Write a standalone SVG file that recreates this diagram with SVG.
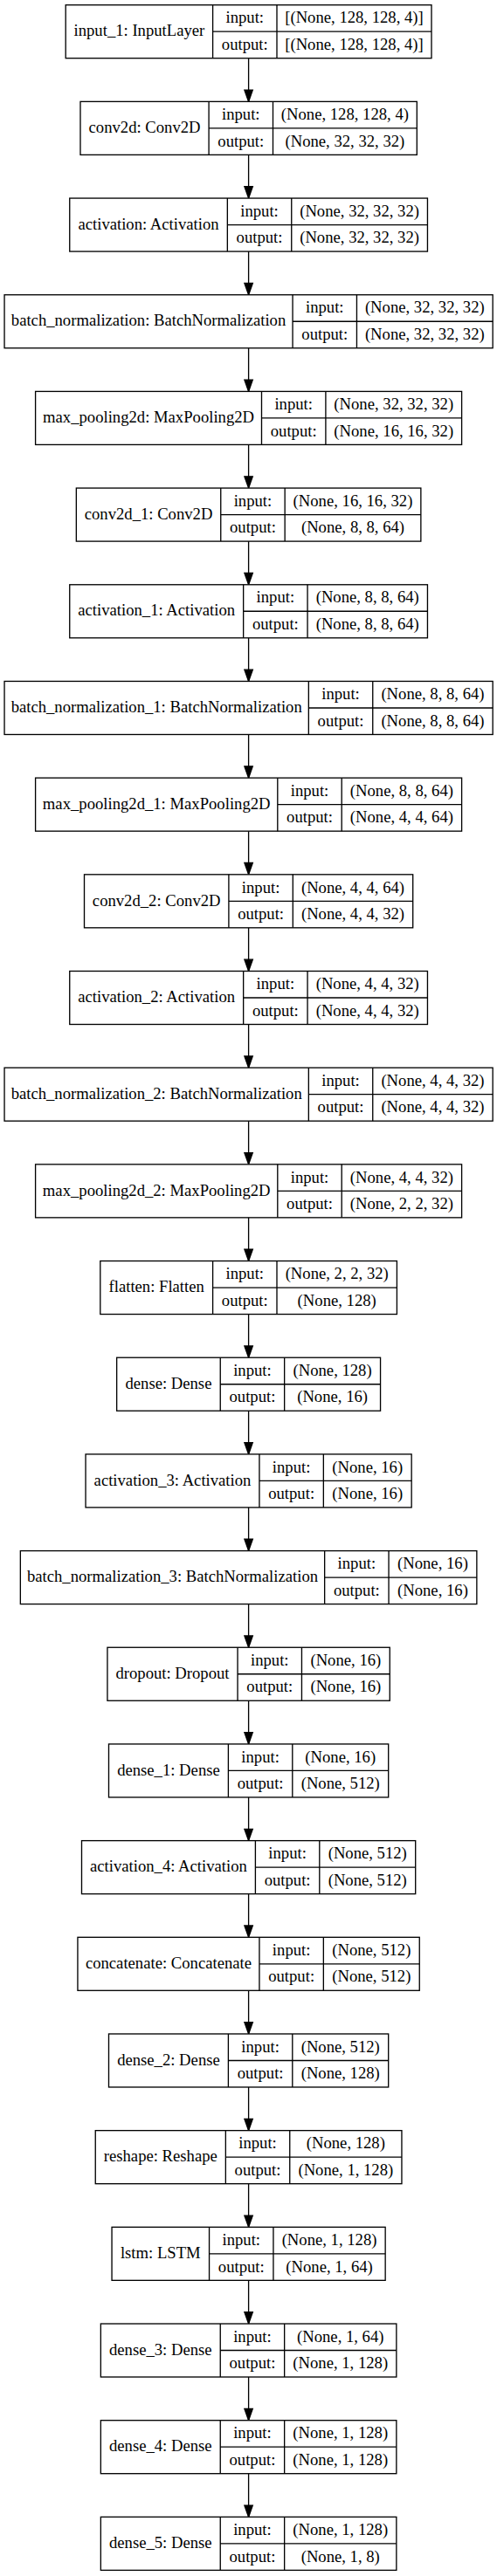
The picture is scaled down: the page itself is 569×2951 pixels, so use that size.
<svg xmlns="http://www.w3.org/2000/svg" width="569" height="2951" viewBox="0 0 569 2951">
<style>
.node rect{fill:#fff;stroke:#000;stroke-width:1.33}
.node path{fill:none;stroke:#000;stroke-width:1.33}
.node text{font-family:"Liberation Serif","Times New Roman",serif;font-size:18.67px;fill:#000;text-anchor:middle}
.edge{fill:none;stroke:#000;stroke-width:1.33;marker-end:url(#arrow)}
</style>
<defs>
<marker id="arrow" markerUnits="userSpaceOnUse" markerWidth="16" markerHeight="14" refX="13.3" refY="5" orient="auto" overflow="visible"><path d="M0 0.3L13.3 5L0 9.7Z" fill="#000" stroke="#000" stroke-width="1.33"/></marker>
</defs>
<rect width="569" height="2951" fill="#fff"/>
<g id="edges">
<path class="edge" d="M284.6 66.7V116.38"/>
<path class="edge" d="M284.6 177.38V227.06"/>
<path class="edge" d="M284.6 288.06V337.74"/>
<path class="edge" d="M284.6 398.74V448.42"/>
<path class="edge" d="M284.6 509.42V559.1"/>
<path class="edge" d="M284.6 620.1V669.78"/>
<path class="edge" d="M284.6 730.78V780.46"/>
<path class="edge" d="M284.6 841.46V891.14"/>
<path class="edge" d="M284.6 952.14V1001.82"/>
<path class="edge" d="M284.6 1062.82V1112.5"/>
<path class="edge" d="M284.6 1173.5V1223.18"/>
<path class="edge" d="M284.6 1284.18V1333.86"/>
<path class="edge" d="M284.6 1394.86V1444.54"/>
<path class="edge" d="M284.6 1505.54V1555.22"/>
<path class="edge" d="M284.6 1616.22V1665.9"/>
<path class="edge" d="M284.6 1726.9V1776.58"/>
<path class="edge" d="M284.6 1837.58V1887.26"/>
<path class="edge" d="M284.6 1948.26V1997.94"/>
<path class="edge" d="M284.6 2058.94V2108.62"/>
<path class="edge" d="M284.6 2169.62V2219.3"/>
<path class="edge" d="M284.6 2280.3V2329.98"/>
<path class="edge" d="M284.6 2390.98V2440.66"/>
<path class="edge" d="M284.6 2501.66V2551.34"/>
<path class="edge" d="M284.6 2612.34V2662.02"/>
<path class="edge" d="M284.6 2723.02V2772.7"/>
<path class="edge" d="M284.6 2833.7V2883.38"/>
</g>
<g id="input_1" class="node" transform="translate(75.2,5.7)">
<rect width="418.8" height="61"/><path d="M168.4 0V61M241.8 0V61M168.4 30.5H418.8"/>
<text x="84.2" y="35.7">input_1: InputLayer</text><text x="205.1" y="20.7">input:</text><text x="205.1" y="51.2">output:</text>
<text x="330.3" y="20.7">[(None, 128, 128, 4)]</text><text x="330.3" y="51.2">[(None, 128, 128, 4)]</text>
</g>
<g id="conv2d" class="node" transform="translate(92,116.38)">
<rect width="385.3" height="61"/><path d="M147.1 0V61M220.5 0V61M147.1 30.5H385.3"/>
<text x="73.55" y="35.7">conv2d: Conv2D</text><text x="183.8" y="20.7">input:</text><text x="183.8" y="51.2">output:</text>
<text x="302.9" y="20.7">(None, 128, 128, 4)</text><text x="302.9" y="51.2">(None, 32, 32, 32)</text>
</g>
<g id="activation" class="node" transform="translate(79.75,227.06)">
<rect width="409.7" height="61"/><path d="M180.6 0V61M254 0V61M180.6 30.5H409.7"/>
<text x="90.3" y="35.7">activation: Activation</text><text x="217.3" y="20.7">input:</text><text x="217.3" y="51.2">output:</text>
<text x="331.85" y="20.7">(None, 32, 32, 32)</text><text x="331.85" y="51.2">(None, 32, 32, 32)</text>
</g>
<g id="batch_normalization" class="node" transform="translate(5.05,337.74)">
<rect width="559.1" height="61"/><path d="M330 0V61M403.4 0V61M330 30.5H559.1"/>
<text x="165" y="35.7">batch_normalization: BatchNormalization</text><text x="366.7" y="20.7">input:</text><text x="366.7" y="51.2">output:</text>
<text x="481.25" y="20.7">(None, 32, 32, 32)</text><text x="481.25" y="51.2">(None, 32, 32, 32)</text>
</g>
<g id="max_pooling2d" class="node" transform="translate(40.6,448.42)">
<rect width="488" height="61"/><path d="M258.9 0V61M332.3 0V61M258.9 30.5H488"/>
<text x="129.45" y="35.7">max_pooling2d: MaxPooling2D</text><text x="295.6" y="20.7">input:</text><text x="295.6" y="51.2">output:</text>
<text x="410.15" y="20.7">(None, 32, 32, 32)</text><text x="410.15" y="51.2">(None, 16, 16, 32)</text>
</g>
<g id="conv2d_1" class="node" transform="translate(87.35,559.1)">
<rect width="394.5" height="61"/><path d="M165.4 0V61M238.8 0V61M165.4 30.5H394.5"/>
<text x="82.7" y="35.7">conv2d_1: Conv2D</text><text x="202.1" y="20.7">input:</text><text x="202.1" y="51.2">output:</text>
<text x="316.65" y="20.7">(None, 16, 16, 32)</text><text x="316.65" y="51.2">(None, 8, 8, 64)</text>
</g>
<g id="activation_1" class="node" transform="translate(79.75,669.78)">
<rect width="409.7" height="61"/><path d="M198.9 0V61M272.3 0V61M198.9 30.5H409.7"/>
<text x="99.45" y="35.7">activation_1: Activation</text><text x="235.6" y="20.7">input:</text><text x="235.6" y="51.2">output:</text>
<text x="341" y="20.7">(None, 8, 8, 64)</text><text x="341" y="51.2">(None, 8, 8, 64)</text>
</g>
<g id="batch_normalization_1" class="node" transform="translate(5.05,780.46)">
<rect width="559.1" height="61"/><path d="M348.3 0V61M421.7 0V61M348.3 30.5H559.1"/>
<text x="174.15" y="35.7">batch_normalization_1: BatchNormalization</text><text x="385" y="20.7">input:</text><text x="385" y="51.2">output:</text>
<text x="490.4" y="20.7">(None, 8, 8, 64)</text><text x="490.4" y="51.2">(None, 8, 8, 64)</text>
</g>
<g id="max_pooling2d_1" class="node" transform="translate(40.6,891.14)">
<rect width="488" height="61"/><path d="M277.2 0V61M350.6 0V61M277.2 30.5H488"/>
<text x="138.6" y="35.7">max_pooling2d_1: MaxPooling2D</text><text x="313.9" y="20.7">input:</text><text x="313.9" y="51.2">output:</text>
<text x="419.3" y="20.7">(None, 8, 8, 64)</text><text x="419.3" y="51.2">(None, 4, 4, 64)</text>
</g>
<g id="conv2d_2" class="node" transform="translate(96.5,1001.82)">
<rect width="376.2" height="61"/><path d="M165.4 0V61M238.8 0V61M165.4 30.5H376.2"/>
<text x="82.7" y="35.7">conv2d_2: Conv2D</text><text x="202.1" y="20.7">input:</text><text x="202.1" y="51.2">output:</text>
<text x="307.5" y="20.7">(None, 4, 4, 64)</text><text x="307.5" y="51.2">(None, 4, 4, 32)</text>
</g>
<g id="activation_2" class="node" transform="translate(79.75,1112.5)">
<rect width="409.7" height="61"/><path d="M198.9 0V61M272.3 0V61M198.9 30.5H409.7"/>
<text x="99.45" y="35.7">activation_2: Activation</text><text x="235.6" y="20.7">input:</text><text x="235.6" y="51.2">output:</text>
<text x="341" y="20.7">(None, 4, 4, 32)</text><text x="341" y="51.2">(None, 4, 4, 32)</text>
</g>
<g id="batch_normalization_2" class="node" transform="translate(5.05,1223.18)">
<rect width="559.1" height="61"/><path d="M348.3 0V61M421.7 0V61M348.3 30.5H559.1"/>
<text x="174.15" y="35.7">batch_normalization_2: BatchNormalization</text><text x="385" y="20.7">input:</text><text x="385" y="51.2">output:</text>
<text x="490.4" y="20.7">(None, 4, 4, 32)</text><text x="490.4" y="51.2">(None, 4, 4, 32)</text>
</g>
<g id="max_pooling2d_2" class="node" transform="translate(40.6,1333.86)">
<rect width="488" height="61"/><path d="M277.2 0V61M350.6 0V61M277.2 30.5H488"/>
<text x="138.6" y="35.7">max_pooling2d_2: MaxPooling2D</text><text x="313.9" y="20.7">input:</text><text x="313.9" y="51.2">output:</text>
<text x="419.3" y="20.7">(None, 4, 4, 32)</text><text x="419.3" y="51.2">(None, 2, 2, 32)</text>
</g>
<g id="flatten" class="node" transform="translate(114.8,1444.54)">
<rect width="339.6" height="61"/><path d="M128.8 0V61M202.2 0V61M128.8 30.5H339.6"/>
<text x="64.4" y="35.7">flatten: Flatten</text><text x="165.5" y="20.7">input:</text><text x="165.5" y="51.2">output:</text>
<text x="270.9" y="20.7">(None, 2, 2, 32)</text><text x="270.9" y="51.2">(None, 128)</text>
</g>
<g id="dense" class="node" transform="translate(133.65,1555.22)">
<rect width="301.9" height="61"/><path d="M118.6 0V61M192 0V61M118.6 30.5H301.9"/>
<text x="59.3" y="35.7">dense: Dense</text><text x="155.3" y="20.7">input:</text><text x="155.3" y="51.2">output:</text>
<text x="246.95" y="20.7">(None, 128)</text><text x="246.95" y="51.2">(None, 16)</text>
</g>
<g id="activation_3" class="node" transform="translate(98.05,1665.9)">
<rect width="373.1" height="61"/><path d="M198.9 0V61M272.3 0V61M198.9 30.5H373.1"/>
<text x="99.45" y="35.7">activation_3: Activation</text><text x="235.6" y="20.7">input:</text><text x="235.6" y="51.2">output:</text>
<text x="322.7" y="20.7">(None, 16)</text><text x="322.7" y="51.2">(None, 16)</text>
</g>
<g id="batch_normalization_3" class="node" transform="translate(23.35,1776.58)">
<rect width="522.5" height="61"/><path d="M348.3 0V61M421.7 0V61M348.3 30.5H522.5"/>
<text x="174.15" y="35.7">batch_normalization_3: BatchNormalization</text><text x="385" y="20.7">input:</text><text x="385" y="51.2">output:</text>
<text x="472.1" y="20.7">(None, 16)</text><text x="472.1" y="51.2">(None, 16)</text>
</g>
<g id="dropout" class="node" transform="translate(122.95,1887.26)">
<rect width="323.3" height="61"/><path d="M149.1 0V61M222.5 0V61M149.1 30.5H323.3"/>
<text x="74.55" y="35.7">dropout: Dropout</text><text x="185.8" y="20.7">input:</text><text x="185.8" y="51.2">output:</text>
<text x="272.9" y="20.7">(None, 16)</text><text x="272.9" y="51.2">(None, 16)</text>
</g>
<g id="dense_1" class="node" transform="translate(124.5,1997.94)">
<rect width="320.2" height="61"/><path d="M136.9 0V61M210.3 0V61M136.9 30.5H320.2"/>
<text x="68.45" y="35.7">dense_1: Dense</text><text x="173.6" y="20.7">input:</text><text x="173.6" y="51.2">output:</text>
<text x="265.25" y="20.7">(None, 16)</text><text x="265.25" y="51.2">(None, 512)</text>
</g>
<g id="activation_4" class="node" transform="translate(93.5,2108.62)">
<rect width="382.2" height="61"/><path d="M198.9 0V61M272.3 0V61M198.9 30.5H382.2"/>
<text x="99.45" y="35.7">activation_4: Activation</text><text x="235.6" y="20.7">input:</text><text x="235.6" y="51.2">output:</text>
<text x="327.25" y="20.7">(None, 512)</text><text x="327.25" y="51.2">(None, 512)</text>
</g>
<g id="concatenate" class="node" transform="translate(88.95,2219.3)">
<rect width="391.3" height="61"/><path d="M208 0V61M281.4 0V61M208 30.5H391.3"/>
<text x="104" y="35.7">concatenate: Concatenate</text><text x="244.7" y="20.7">input:</text><text x="244.7" y="51.2">output:</text>
<text x="336.35" y="20.7">(None, 512)</text><text x="336.35" y="51.2">(None, 512)</text>
</g>
<g id="dense_2" class="node" transform="translate(124.5,2329.98)">
<rect width="320.2" height="61"/><path d="M136.9 0V61M210.3 0V61M136.9 30.5H320.2"/>
<text x="68.45" y="35.7">dense_2: Dense</text><text x="173.6" y="20.7">input:</text><text x="173.6" y="51.2">output:</text>
<text x="265.25" y="20.7">(None, 512)</text><text x="265.25" y="51.2">(None, 128)</text>
</g>
<g id="reshape" class="node" transform="translate(109.25,2440.66)">
<rect width="350.7" height="61"/><path d="M149.1 0V61M222.5 0V61M149.1 30.5H350.7"/>
<text x="74.55" y="35.7">reshape: Reshape</text><text x="185.8" y="20.7">input:</text><text x="185.8" y="51.2">output:</text>
<text x="286.6" y="20.7">(None, 128)</text><text x="286.6" y="51.2">(None, 1, 128)</text>
</g>
<g id="lstm" class="node" transform="translate(128.05,2551.34)">
<rect width="313.1" height="61"/><path d="M111.5 0V61M184.9 0V61M111.5 30.5H313.1"/>
<text x="55.75" y="35.7">lstm: LSTM</text><text x="148.2" y="20.7">input:</text><text x="148.2" y="51.2">output:</text>
<text x="249" y="20.7">(None, 1, 128)</text><text x="249" y="51.2">(None, 1, 64)</text>
</g>
<g id="dense_3" class="node" transform="translate(115.35,2662.02)">
<rect width="338.5" height="61"/><path d="M136.9 0V61M210.3 0V61M136.9 30.5H338.5"/>
<text x="68.45" y="35.7">dense_3: Dense</text><text x="173.6" y="20.7">input:</text><text x="173.6" y="51.2">output:</text>
<text x="274.4" y="20.7">(None, 1, 64)</text><text x="274.4" y="51.2">(None, 1, 128)</text>
</g>
<g id="dense_4" class="node" transform="translate(115.35,2772.7)">
<rect width="338.5" height="61"/><path d="M136.9 0V61M210.3 0V61M136.9 30.5H338.5"/>
<text x="68.45" y="35.7">dense_4: Dense</text><text x="173.6" y="20.7">input:</text><text x="173.6" y="51.2">output:</text>
<text x="274.4" y="20.7">(None, 1, 128)</text><text x="274.4" y="51.2">(None, 1, 128)</text>
</g>
<g id="dense_5" class="node" transform="translate(115.35,2883.38)">
<rect width="338.5" height="61"/><path d="M136.9 0V61M210.3 0V61M136.9 30.5H338.5"/>
<text x="68.45" y="35.7">dense_5: Dense</text><text x="173.6" y="20.7">input:</text><text x="173.6" y="51.2">output:</text>
<text x="274.4" y="20.7">(None, 1, 128)</text><text x="274.4" y="51.2">(None, 1, 8)</text>
</g>
</svg>
